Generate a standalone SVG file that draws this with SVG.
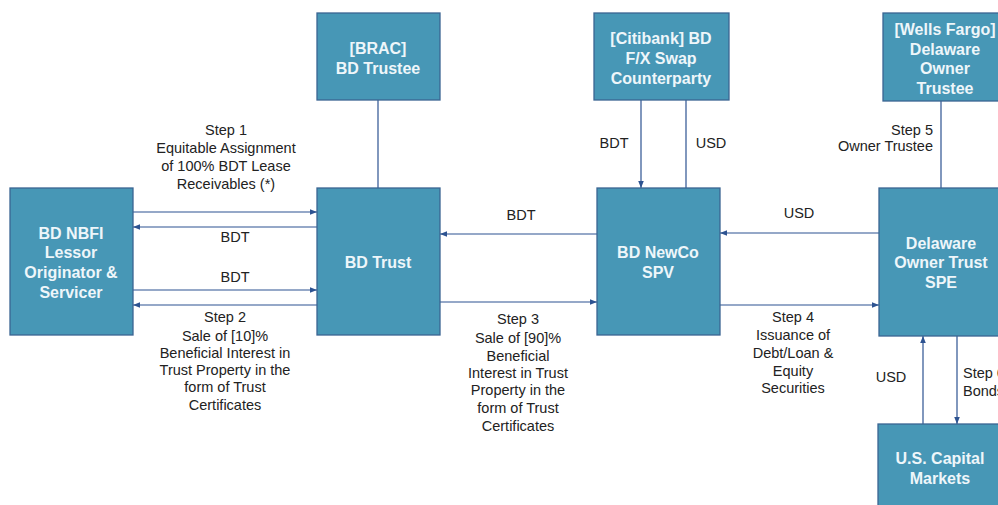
<svg xmlns="http://www.w3.org/2000/svg" width="998" height="505" viewBox="0 0 998 505">
<defs>
<style>
.box{fill:#4797b6;stroke:#3b6593;stroke-width:1.3}
.bt{font-family:"Liberation Sans",Arial,sans-serif;font-size:16px;font-weight:bold;fill:#eef6fa;text-anchor:middle}
.lb{font-family:"Liberation Sans",Arial,sans-serif;font-size:14.5px;fill:#222;text-anchor:middle}
.ln{stroke:#2d5391;stroke-width:1.2;fill:none}
.ar{marker-end:url(#ah)}
</style>
<marker id="ah" viewBox="0 0 10 10" refX="10" refY="5" markerWidth="7" markerHeight="7" markerUnits="userSpaceOnUse" orient="auto">
<path d="M0,1 L10,5 L0,9 z" fill="#2d5391"/>
</marker>
</defs>
<rect width="998" height="505" fill="#fff"/>
<g id="connectors">
<line class="ln ar" x1="133" y1="212" x2="317" y2="212"/>
<line class="ln ar" x1="317" y1="227" x2="133" y2="227"/>
<line class="ln ar" x1="133" y1="290" x2="317" y2="290"/>
<line class="ln ar" x1="317" y1="305" x2="133" y2="305"/>
<line class="ln" x1="378" y1="100" x2="378" y2="188"/>
<line class="ln ar" x1="597" y1="234" x2="440" y2="234"/>
<line class="ln ar" x1="440" y1="302" x2="597" y2="302"/>
<line class="ln ar" x1="641" y1="100" x2="641" y2="188"/>
<line class="ln" x1="686" y1="188" x2="686" y2="100"/>
<line class="ln ar" x1="879" y1="233" x2="720" y2="233"/>
<line class="ln ar" x1="720" y1="305" x2="879" y2="305"/>
<line class="ln" x1="941" y1="101" x2="941" y2="188"/>
<line class="ln ar" x1="923" y1="424" x2="923" y2="336"/>
<line class="ln ar" x1="957" y1="336" x2="957" y2="424"/>
<g class="lb">
<text x="226" y="135">Step 1</text>
<text x="226" y="153">Equitable Assignment</text>
<text x="226" y="171">of 100% BDT Lease</text>
<text x="226" y="189">Receivables (*)</text>
<text x="235" y="242">BDT</text>
<text x="235" y="282">BDT</text>
<text x="225" y="322">Step 2</text>
<text x="225" y="341">Sale of [10]%</text>
<text x="225" y="358">Beneficial Interest in</text>
<text x="225" y="375">Trust Property in the</text>
<text x="225" y="392">form of Trust</text>
<text x="225" y="410">Certificates</text>
<text x="521" y="220">BDT</text>
<text x="518" y="324">Step 3</text>
<text x="518" y="343">Sale of [90]%</text>
<text x="518" y="361">Beneficial</text>
<text x="518" y="378">Interest in Trust</text>
<text x="518" y="395">Property in the</text>
<text x="518" y="413">form of Trust</text>
<text x="518" y="431">Certificates</text>
<text x="614" y="148">BDT</text>
<text x="711" y="148">USD</text>
<text x="799" y="218">USD</text>
<text x="793" y="322">Step 4</text>
<text x="793" y="340">Issuance of</text>
<text x="793" y="358">Debt/Loan &amp;</text>
<text x="793" y="376">Equity</text>
<text x="793" y="393">Securities</text>
<text x="933" y="135" text-anchor="end">Step 5</text>
<text x="933" y="151" text-anchor="end">Owner Trustee</text>
<text x="891" y="382">USD</text>
<text x="963" y="378" text-anchor="start">Step 6</text>
<text x="963" y="396" text-anchor="start">Bonds</text>
</g>
</g>
<g id="nbfi">
<rect class="box" x="10" y="188" width="123" height="147"/>
<text class="bt" x="71" y="239">BD NBFI</text>
<text class="bt" x="71" y="258">Lessor</text>
<text class="bt" x="71" y="278">Originator &amp;</text>
<text class="bt" x="71" y="298">Servicer</text>
</g>
<g id="bdtrust">
<rect class="box" x="317" y="188" width="123" height="147"/>
<text class="bt" x="378" y="268">BD Trust</text>
</g>
<g id="brac">
<rect class="box" x="317" y="13" width="123" height="87"/>
<text class="bt" x="378" y="54">[BRAC]</text>
<text class="bt" x="378" y="74">BD Trustee</text>
</g>
<g id="citibank">
<rect class="box" x="594" y="13" width="135" height="87"/>
<text class="bt" x="661" y="44">[Citibank] BD</text>
<text class="bt" x="661" y="64">F/X Swap</text>
<text class="bt" x="661" y="84">Counterparty</text>
</g>
<g id="newco">
<rect class="box" x="597" y="188" width="123" height="147"/>
<text class="bt" x="658" y="258">BD NewCo</text>
<text class="bt" x="658" y="278">SPV</text>
</g>
<g id="wellsfargo">
<rect class="box" x="883" y="13" width="124" height="88"/>
<text class="bt" x="945" y="35">[Wells Fargo]</text>
<text class="bt" x="945" y="55">Delaware</text>
<text class="bt" x="945" y="74">Owner</text>
<text class="bt" x="945" y="94">Trustee</text>
</g>
<g id="delaware">
<rect class="box" x="879" y="188" width="124" height="148"/>
<text class="bt" x="941" y="249">Delaware</text>
<text class="bt" x="941" y="268">Owner Trust</text>
<text class="bt" x="941" y="288">SPE</text>
</g>
<g id="uscap">
<rect class="box" x="878" y="424" width="124" height="90"/>
<text class="bt" x="940" y="464">U.S. Capital</text>
<text class="bt" x="940" y="484">Markets</text>
</g>
</svg>
